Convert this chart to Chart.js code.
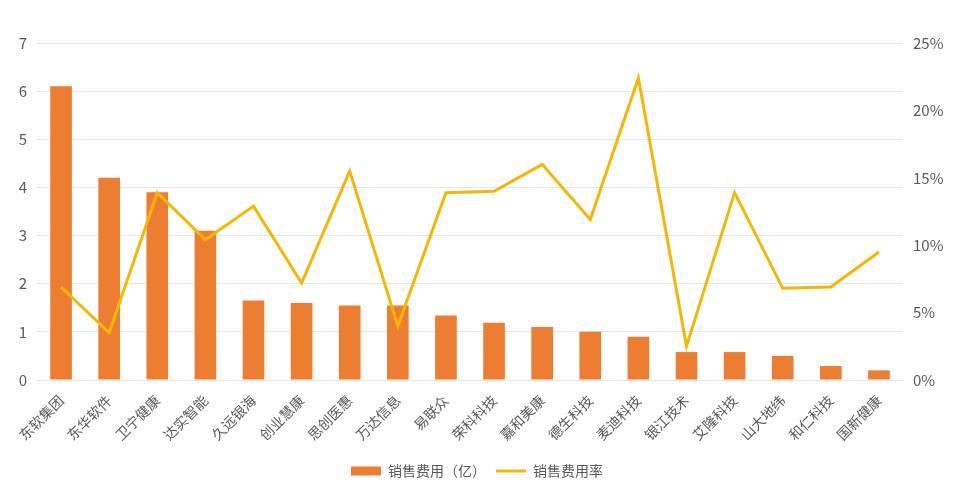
<!DOCTYPE html>
<html>
<head>
<meta charset="utf-8">
<script src="https://cdn.jsdelivr.net/npm/chart.js@4"></script>
<style>
  html, body { margin: 0; padding: 0; background: #fff; }
  #wrap { width: 954px; height: 498px; }
</style>
</head>
<body>
<div id="wrap"><canvas id="salesChart"></canvas></div>
<script>
// 公司名称
const companies = ['东软集团', '东华软件', '卫宁健康', '达实智能', '久远银海', '创业慧康', '思创医惠', '万达信息', '易联众',
    '荣科科技', '嘉和美康', '德生科技', '麦迪科技', '银江技术', '艾隆科技', '山大地纬', '和仁科技', '国新健康'];

// 销售费用（亿）
const salesExpense = [6.1, 4.2, 3.9, 3.1, 1.65, 1.6, 1.55, 1.55, 1.34, 1.19, 1.1, 1.0, 0.9, 0.58, 0.58, 0.5, 0.29, 0.2];

// 销售费用率（%）
const expenseRate = [6.9, 3.5, 13.9, 10.4, 12.9, 7.2, 15.5, 4.0, 13.9, 14.0, 16.0, 11.9, 22.4, 2.5, 13.9, 6.8, 6.9, 9.5];

const leftTicks = [0, 7, 1];
const rightTicks = [0, 25, 5];

const fontFamily = "'Noto Sans CJK SC', 'Noto Sans', sans-serif";
const textColor = '#595959';
const gridColor = '#e3e5ef';

const ctx = document.getElementById('salesChart');

new Chart(ctx, {
    data: {
        labels: companies,
        datasets: [
            {
                type: 'bar',
                label: '销售费用（亿）',
                data: salesExpense,
                backgroundColor: '#ed7d31',
                borderWidth: 0,
                barPercentage: 0.45,
                categoryPercentage: 1,
                pointStyle: 'rect',
                yAxisID: 'y',
                order: 2
            },
            {
                type: 'line',
                label: '销售费用率',
                data: expenseRate,
                borderColor: '#f4b800',
                backgroundColor: '#f4b800',
                borderWidth: 3,
                pointRadius: 0,
                tension: 0,
                pointStyle: 'line',
                yAxisID: 'y1',
                order: 1
            }
        ]
    },
    options: {
        responsive: true,
        maintainAspectRatio: false,
        animation: false,
        layout: {
            padding: { top: 43, bottom: 10, left: 0, right: 0 }
        },
        plugins: {
            tooltip: { enabled: false },
            legend: {
                position: 'bottom',
                labels: {
                    usePointStyle: true,
                    pointStyleWidth: 30,
                    boxHeight: 9,
                    padding: 10,
                    color: textColor,
                    font: { family: fontFamily, size: 14 },
                    // 图例按数据集顺序显示（柱在前）
                    sort: (a, b) => a.datasetIndex - b.datasetIndex
                }
            }
        },
        scales: {
            x: {
                grid: { display: false },
                border: { color: gridColor },
                ticks: {
                    color: textColor,
                    font: { family: fontFamily, size: 14 },
                    maxRotation: 45,
                    minRotation: 45,
                    padding: 4,
                    autoSkip: false
                },
                afterFit: s => { s.height = 74; }
            },
            y: {
                position: 'left',
                min: leftTicks[0],
                max: leftTicks[1],
                ticks: {
                    stepSize: leftTicks[2],
                    color: textColor,
                    padding: 10,
                    font: { family: fontFamily, size: 15 }
                },
                grid: { color: gridColor, drawTicks: false },
                border: { display: false },
                afterFit: s => { s.width = 37; }
            },
            y1: {
                position: 'right',
                min: rightTicks[0],
                max: rightTicks[1],
                ticks: {
                    stepSize: rightTicks[2],
                    color: textColor,
                    padding: 10,
                    font: { family: fontFamily, size: 15 },
                    callback: v => v + '%'
                },
                grid: { display: false, drawTicks: false },
                border: { display: false },
                afterFit: s => { s.width = 51; }
            }
        }
    }
});
</script>
</body>
</html>
